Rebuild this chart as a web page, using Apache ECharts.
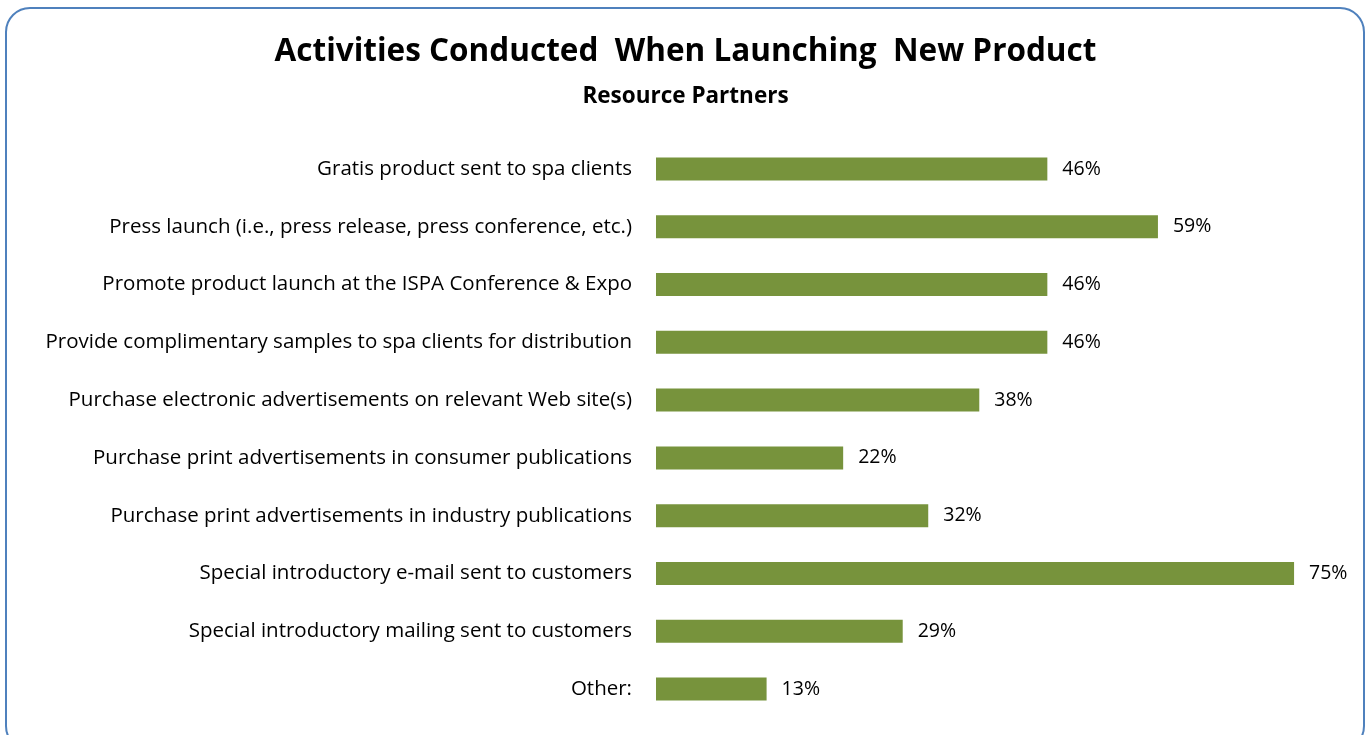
<!DOCTYPE html>
<html>
<head>
<meta charset="utf-8">
<script src="https://cdn.jsdelivr.net/npm/echarts@6/dist/echarts.min.js"></script>
<style>
  html, body { margin: 0; padding: 0; background: #fff; }
  #chart { width: 1371px; height: 735px; }
</style>
</head>
<body>
<div id="chart"></div>
<script>
// Survey activities, listed top to bottom
const categories = [
  "Gratis product sent to spa clients",
  "Press launch (i.e., press release, press conference, etc.)",
  "Promote product launch at the ISPA Conference & Expo",
  "Provide complimentary samples to spa clients for distribution",
  "Purchase electronic advertisements on relevant Web site(s)",
  "Purchase print advertisements in consumer publications",
  "Purchase print advertisements in industry publications",
  "Special introductory e-mail sent to customers",
  "Special introductory mailing sent to customers",
  "Other:"
];
// Share of resource partners (%)
const shares = [46, 59, 46, 46, 38, 22, 32, 75, 29, 13];

const titleText = "Activities Conducted  When Launching  New Product";
const subtitleText = "Resource Partners";

const FONT = "'Open Sans', 'Noto Sans', sans-serif";

const chart = echarts.init(document.getElementById("chart"), null, { renderer: "canvas" });

chart.setOption({
  animation: false,
  backgroundColor: "#ffffff",
  graphic: [{
    type: "rect",
    shape: { x: 6, y: 8, width: 1358, height: 742, r: 24 },
    style: { fill: "none", stroke: "#4F81BD", lineWidth: 2 },
    z: -1
  }],
  title: [{
    text: titleText,
    left: "center",
    top: 31,
    textStyle: { fontFamily: FONT, fontSize: 31.5, fontWeight: "bold", color: "#000" }
  }, {
    text: subtitleText,
    left: "center",
    top: 80,
    textStyle: { fontFamily: FONT, fontSize: 22.5, fontWeight: "bold", color: "#000" }
  }],
  grid: { left: 656, right: 34.4, top: 140.1, bottom: 17.1, containLabel: false },
  xAxis: {
    type: "value",
    min: 0,
    max: 80,
    show: false
  },
  yAxis: {
    type: "category",
    data: categories,
    inverse: true,
    axisLine: { show: false },
    axisTick: { show: false },
    splitLine: { show: false },
    axisLabel: {
      margin: 24,
      fontFamily: FONT,
      fontSize: 20.5,
      color: "#000"
    }
  },
  series: [{
    type: "bar",
    data: shares,
    barWidth: 23,
    itemStyle: { color: "#77933C" },
    label: {
      show: true,
      position: "right",
      distance: 15,
      formatter: "{c}%",
      fontFamily: FONT,
      fontSize: 19.5,
      color: "#000"
    }
  }]
});
</script>
</body>
</html>
